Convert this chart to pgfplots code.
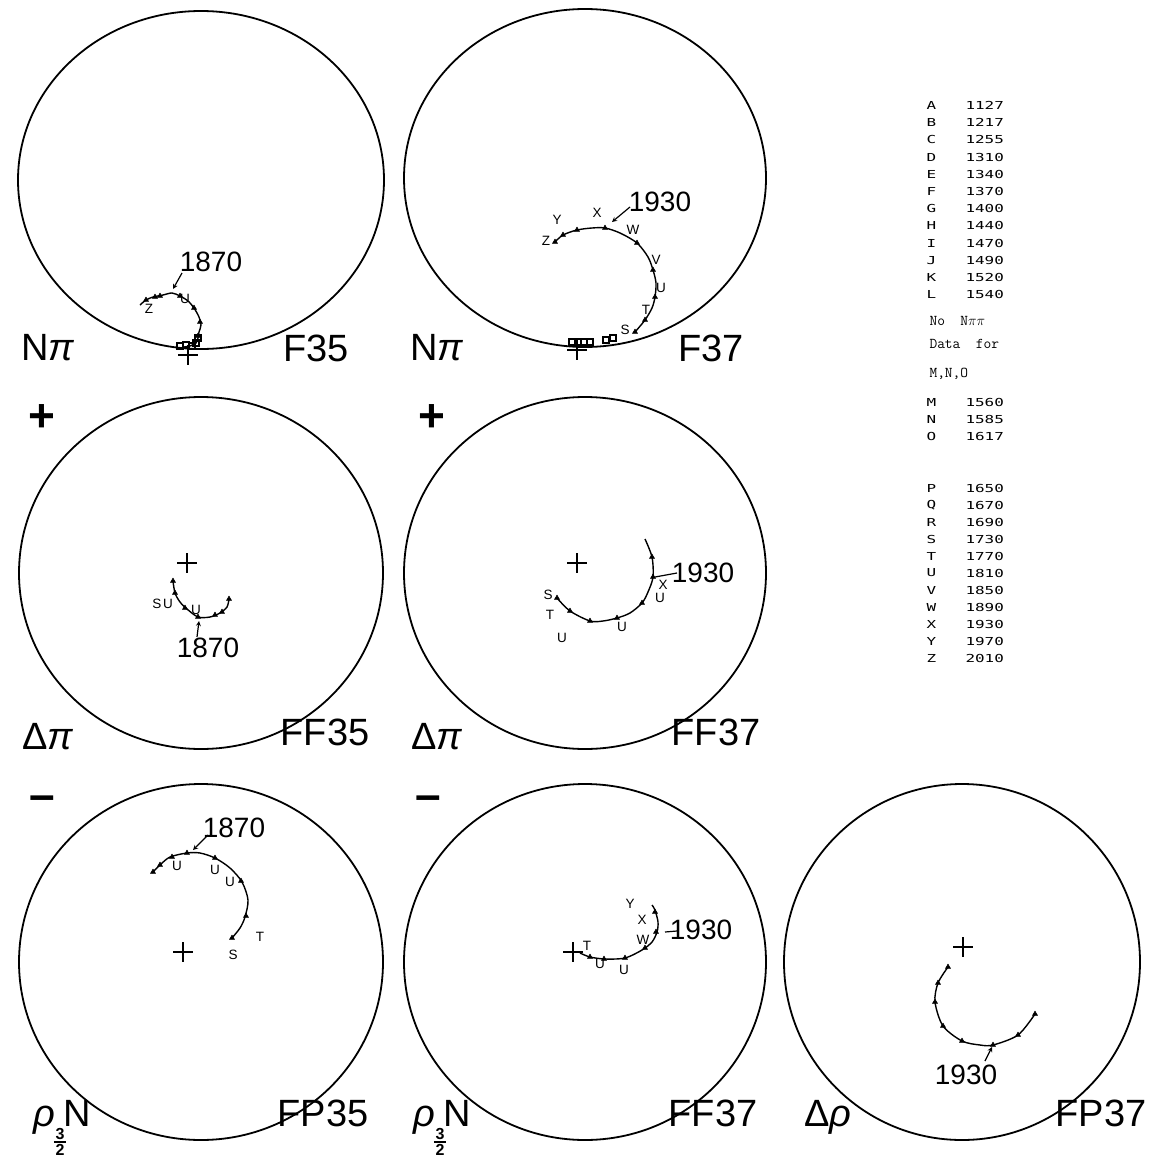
\documentclass[border=0pt]{standalone}
\usepackage{pgfplots}
\pgfplotsset{compat=1.18}
\usepackage{graphicx}
\usepackage{fontspec}
\setmainfont{Liberation Sans}
\newfontfamily\dotmono{DejaVu Sans Mono}
\tikzset{
  lt/.style={font=\fontsize{13.5}{14}\selectfont},
  big/.style={font=\fontsize{38}{40}\selectfont},
  yr/.style={font=\fontsize{28}{30}\selectfont},
  lg/.style={anchor=west,font=\dotmono\fontsize{11}{12}\selectfont},
  tw/.style={anchor=west,font=\ttfamily\fontsize{15}{16}\selectfont},
}
\newcommand{\lgt}[1]{\scalebox{1.45}[1]{#1}}
\newcommand{\rhoh}{{\itshape ρ}\kern-1pt\lower13.5pt\vtop{\fontsize{16}{16}\bfseries\selectfont\hbox to 12pt{\hss 3\hss}\kern1.5pt\hrule width 12pt height 1.8pt\kern1.5pt\hbox to 12pt{\hss 2\hss}}\kern-2pt}
\begin{document}
\begin{tikzpicture}
\begin{axis}[x=1pt,y=1pt,y dir=reverse,xmin=0,xmax=1150,ymin=0,ymax=1159,
  hide axis,clip=false,scale only axis,
  curve/.style={black,line width=1.4pt,smooth,no marks},
  tk/.style={black,only marks,mark=triangle*,mark size=3pt},
  sq/.style={black,only marks,mark=square,mark size=3pt,line width=1.6pt},
  cr/.style={black,only marks,mark=+,mark size=10pt,line width=1.6pt},
]
\path (axis cs:0,0) rectangle (axis cs:1150,1159);
% frames
\draw[line width=1.8pt] (axis cs:201,180) ellipse[x radius=183pt,y radius=169pt];
\draw[line width=1.8pt] (axis cs:585,178) ellipse[x radius=181pt,y radius=169pt];
\draw[line width=1.8pt] (axis cs:201,573) ellipse[x radius=182pt,y radius=176pt];
\draw[line width=1.8pt] (axis cs:585,573) ellipse[x radius=181pt,y radius=176pt];
\draw[line width=1.8pt] (axis cs:201,962) ellipse[x radius=182pt,y radius=178pt];
\draw[line width=1.8pt] (axis cs:585,962) ellipse[x radius=181pt,y radius=178pt];
\draw[line width=1.8pt] (axis cs:962,962) ellipse[x radius=178pt,y radius=178pt];

% ---- F35
\addplot[curve] coordinates {(140,305)(146,300)(153,297)(163,295)(172,293)(180,296)(188,301)(194,308)(199,317)(201,325)(199,332)(198,338)(196,343)(190,346)(184,347)};
\addplot[tk] coordinates {(146,300)(155,297)(160,296)(180,296)(194,308)(200,322)(198,336)};
\addplot[sq] coordinates {(180,346)(186,345)(192,346)(196,343)(198,338)};
\addplot[cr] coordinates {(188,355)};
\node[lt] at (axis cs:149,309) {Z};
\node[lt] at (axis cs:185,299) {U};
\node[yr] at (axis cs:211,262) {1870};
\draw[->,line width=1.2pt,>=stealth] (axis cs:182,273) -- (axis cs:173,289);

% ---- F37
\addplot[curve] coordinates {(555,242)(563,235)(577,230)(592,228)(605,228)(620,233)(637,243)(648,257)(653,270)(656,283)(655,297)(652,308)(645,320)(635,332)};
\addplot[tk] coordinates {(555,242)(563,235)(577,230)(605,228)(637,243)(653,270)(655,297)(645,320)(635,332)};
\addplot[sq] coordinates {(572,342)(578,342)(584,342)(590,342)(606,340)(613,338)};
\addplot[cr] coordinates {(577,350)};
\node[lt] at (axis cs:546,241) {Z};
\node[lt] at (axis cs:557,220) {Y};
\node[lt] at (axis cs:597,213) {X};
\node[lt] at (axis cs:633,230) {W};
\node[lt] at (axis cs:656,260) {V};
\node[lt] at (axis cs:661,288) {U};
\node[lt] at (axis cs:646,310) {T};
\node[lt] at (axis cs:625,330) {S};
\node[yr] at (axis cs:660,202) {1930};
\draw[->,line width=1.2pt,>=stealth] (axis cs:630,207) -- (axis cs:612,222);

% ---- FF35
\addplot[cr] coordinates {(187,563)};
\addplot[curve] coordinates {(173,581)(175,593)(180,602)(187,609)(198,617)(210,617)(220,613)(227,607)(229,599)};
\addplot[tk] coordinates {(173,581)(175,593)(185,608)(198,617)(215,615)(222,612)(229,599)};
\node[lt] at (axis cs:157,604) {S};
\node[lt] at (axis cs:168,604) {U};
\node[lt] at (axis cs:196,610) {U};
\node[yr] at (axis cs:208,648) {1870};
\draw[->,line width=1.2pt,>=stealth] (axis cs:197,637) -- (axis cs:199,621);

% ---- FF37
\addplot[cr] coordinates {(577,563)};
\addplot[curve] coordinates {(645,539)(652,557)(653,577)(648,592)(642,603)(630,613)(617,618)(603,621)(590,621)(570,611)(557,598)};
\addplot[tk] coordinates {(652,557)(653,577)(642,603)(617,618)(590,621)(570,611)(557,598)};
\node[lt] at (axis cs:548,595) {S};
\node[lt] at (axis cs:550,615) {T};
\node[lt] at (axis cs:562,638) {U};
\node[lt] at (axis cs:622,627) {U};
\node[lt] at (axis cs:660,598) {U};
\node[lt] at (axis cs:663,585) {X};
\node[yr] at (axis cs:703,573) {1930};
\draw[line width=1.2pt] (axis cs:655,577) -- (axis cs:677,573);

% ---- FP35
\addplot[curve] coordinates {(152,873)(160,865)(170,857)(187,853)(200,853)(215,858)(230,868)(242,882)(248,900)(245,917)(240,928)(232,938)};
\addplot[tk] coordinates {(153,872)(160,865)(172,857)(187,853)(215,858)(241,881)(246,916)(232,938)};
\addplot[cr] coordinates {(183,952)};
\node[lt] at (axis cs:177,866) {U};
\node[lt] at (axis cs:215,870) {U};
\node[lt] at (axis cs:230,882) {U};
\node[lt] at (axis cs:260,937) {T};
\node[lt] at (axis cs:233,955) {S};
\node[yr] at (axis cs:234,828) {1870};
\draw[->,line width=1.2pt,>=stealth] (axis cs:208,835) -- (axis cs:193,850);

% ---- FF37 (bottom)
\addplot[cr] coordinates {(573,952)};
\addplot[curve] coordinates {(580,953)(590,957)(605,959)(625,958)(642,950)(652,942)(657,932)(658,922)(655,910)(652,905)};
\addplot[tk] coordinates {(590,957)(604,959)(625,958)(645,948)(656,932)(655,912)};
\node[lt] at (axis cs:587,946) {T};
\node[lt] at (axis cs:600,964) {U};
\node[lt] at (axis cs:624,970) {U};
\node[lt] at (axis cs:643,940) {W};
\node[lt] at (axis cs:642,920) {X};
\node[lt] at (axis cs:630,904) {Y};
\node[yr] at (axis cs:701,930) {1930};
\draw[line width=1.2pt] (axis cs:665,932) -- (axis cs:677,931);

% ---- FP37
\addplot[cr] coordinates {(963,947)};
\addplot[curve] coordinates {(948,967)(938,983)(935,1002)(943,1026)(962,1041)(980,1045)(993,1045)(1018,1035)(1035,1014)};
\addplot[tk] coordinates {(948,967)(938,983)(935,1002)(943,1026)(962,1041)(993,1045)(1018,1035)(1035,1014)};
\node[yr] at (axis cs:966,1075) {1930};
\draw[->,line width=1.2pt,>=stealth] (axis cs:985,1061) -- (axis cs:992,1047);

% ---- big labels
\node[big] at (axis cs:48,348) {N{\itshape π}};
\node[big] at (axis cs:316,348) {F35};
\node[big] at (axis cs:437,348) {N{\itshape π}};
\node[big] at (axis cs:711,348) {F37};
\node[big,font=\fontsize{46}{46}\bfseries\selectfont] at (axis cs:42,418) {+};
\node[big,font=\fontsize{46}{46}\bfseries\selectfont] at (axis cs:432,418) {+};
\node[big] at (axis cs:48,737) {Δ{\itshape π}};
\node[big] at (axis cs:325,732) {FF35};
\node[big] at (axis cs:437,737) {Δ{\itshape π}};
\node[big] at (axis cs:716,732) {FF37};
\node[big,font=\fontsize{46}{46}\bfseries\selectfont] at (axis cs:42,803) {\textendash};
\node[big,font=\fontsize{46}{46}\bfseries\selectfont] at (axis cs:428,803) {\textendash};
\node[big,anchor=base west,inner sep=0pt] at (axis cs:33,1126) {\rhoh N};
\node[big] at (axis cs:323,1113) {FP35};
\node[big,anchor=base west,inner sep=0pt] at (axis cs:413,1126) {\rhoh N};
\node[big] at (axis cs:713,1113) {FF37};
\node[big] at (axis cs:828,1117) {Δ{\itshape ρ}};
\node[big] at (axis cs:1101,1113) {FP37};

% ---- legend table
\node[lg] at (axis cs:923,105.5) {\lgt{A}};  \node[lg] at (axis cs:962,105.5) {\lgt{1127}};
\node[lg] at (axis cs:923,122.7) {\lgt{B}};  \node[lg] at (axis cs:962,122.7) {\lgt{1217}};
\node[lg] at (axis cs:923,139.9) {\lgt{C}};  \node[lg] at (axis cs:962,139.9) {\lgt{1255}};
\node[lg] at (axis cs:923,157.1) {\lgt{D}};  \node[lg] at (axis cs:962,157.1) {\lgt{1310}};
\node[lg] at (axis cs:923,174.3) {\lgt{E}};  \node[lg] at (axis cs:962,174.3) {\lgt{1340}};
\node[lg] at (axis cs:923,191.5) {\lgt{F}};  \node[lg] at (axis cs:962,191.5) {\lgt{1370}};
\node[lg] at (axis cs:923,208.7) {\lgt{G}};  \node[lg] at (axis cs:962,208.7) {\lgt{1400}};
\node[lg] at (axis cs:923,225.9) {\lgt{H}};  \node[lg] at (axis cs:962,225.9) {\lgt{1440}};
\node[lg] at (axis cs:923,243.1) {\lgt{I}};  \node[lg] at (axis cs:962,243.1) {\lgt{1470}};
\node[lg] at (axis cs:923,260.3) {\lgt{J}};  \node[lg] at (axis cs:962,260.3) {\lgt{1490}};
\node[lg] at (axis cs:923,277.5) {\lgt{K}};  \node[lg] at (axis cs:962,277.5) {\lgt{1520}};
\node[lg] at (axis cs:923,294.7) {\lgt{L}};  \node[lg] at (axis cs:962,294.7) {\lgt{1540}};
\node[tw] at (axis cs:926,321) {No \ N$\pi\pi$};
\node[tw] at (axis cs:926,344) {Data \ for};
\node[tw] at (axis cs:926,374) {M,N,O};
\node[lg] at (axis cs:923,402) {\lgt{M}};  \node[lg] at (axis cs:962,402) {\lgt{1560}};
\node[lg] at (axis cs:923,419) {\lgt{N}};  \node[lg] at (axis cs:962,419) {\lgt{1585}};
\node[lg] at (axis cs:923,436) {\lgt{O}};  \node[lg] at (axis cs:962,436) {\lgt{1617}};
\node[lg] at (axis cs:923,488) {\lgt{P}};  \node[lg] at (axis cs:962,488) {\lgt{1650}};
\node[lg] at (axis cs:923,505) {\lgt{Q}};  \node[lg] at (axis cs:962,505) {\lgt{1670}};
\node[lg] at (axis cs:923,522) {\lgt{R}};  \node[lg] at (axis cs:962,522) {\lgt{1690}};
\node[lg] at (axis cs:923,539) {\lgt{S}};  \node[lg] at (axis cs:962,539) {\lgt{1730}};
\node[lg] at (axis cs:923,556) {\lgt{T}};  \node[lg] at (axis cs:962,556) {\lgt{1770}};
\node[lg] at (axis cs:923,573) {\lgt{U}};  \node[lg] at (axis cs:962,573) {\lgt{1810}};
\node[lg] at (axis cs:923,590) {\lgt{V}};  \node[lg] at (axis cs:962,590) {\lgt{1850}};
\node[lg] at (axis cs:923,607) {\lgt{W}};  \node[lg] at (axis cs:962,607) {\lgt{1890}};
\node[lg] at (axis cs:923,624) {\lgt{X}};  \node[lg] at (axis cs:962,624) {\lgt{1930}};
\node[lg] at (axis cs:923,641) {\lgt{Y}};  \node[lg] at (axis cs:962,641) {\lgt{1970}};
\node[lg] at (axis cs:923,658) {\lgt{Z}};  \node[lg] at (axis cs:962,658) {\lgt{2010}};
\end{axis}
\end{tikzpicture}
\end{document}
